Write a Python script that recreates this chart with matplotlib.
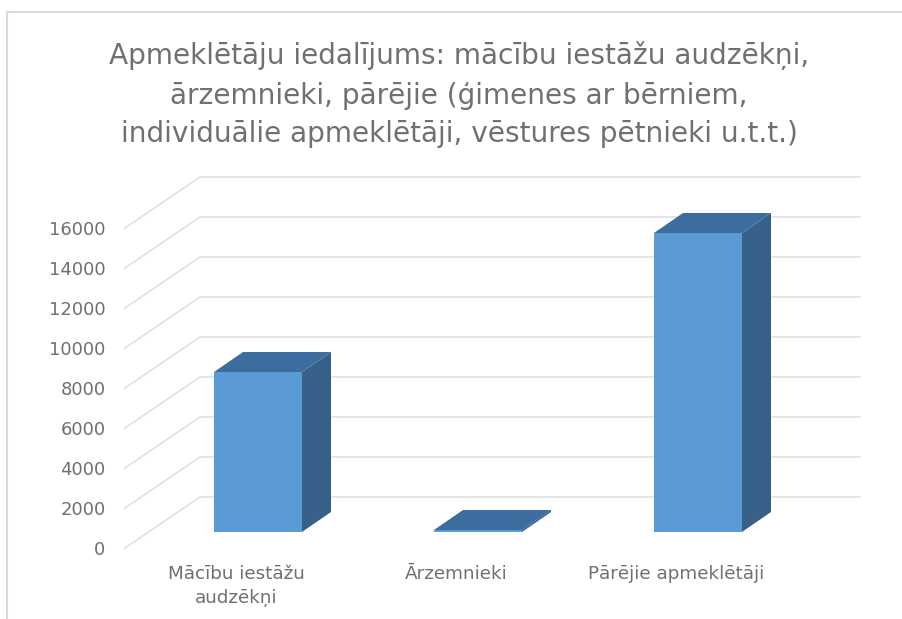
import matplotlib
matplotlib.use("Agg")
import matplotlib.pyplot as plt
from matplotlib.lines import Line2D
import numpy as np

# --- data ---
categories = ["Mācību iestāžu\naudzēkņi", "Ārzemnieki", "Pārējie apmeklētāji"]
values = [8000, 100, 14950]
yticks = [0, 2000, 4000, 6000, 8000, 10000, 12000, 14000, 16000]
title = ("Apmeklētāju iedalījums: mācību iestāžu audzēkņi,\n"
         "ārzemnieki, pārējie (ģimenes ar bērniem,\n"
         "individuālie apmeklētāji, vēstures pētnieki u.t.t.)")

# --- colours ---
GRID = "#e0e0e0"
TEXT = "#707070"
FRONT = "#5b9bd5"
TOP = "#3c6d9e"
SIDE = "#386189"

# --- 3d fake: depth offsets in data units ---
W, H = 902, 619
PX_X = 1 / 220      # category units per pixel
PX_Y = 50           # value units per pixel
wall_dx, wall_dy = 75 * PX_X, 51 * PX_Y
base_dy = 16 * PX_Y
bar_dx, bar_dy = 29 * PX_X, 20 * PX_Y
half = 44 * PX_X

fig = plt.figure(figsize=(W / 100, H / 100), dpi=100)
plt.rcParams['font.family'] = ['DejaVu Sans']
ax = fig.add_axes([125 / W, (H - 548) / H, 735 / W, 371 / H])
ax.set_xlim((125 - 258) * PX_X, (860 - 258) * PX_X)
ax.set_ylim(0, 371 * PX_Y)
for s in ax.spines.values():
    s.set_visible(False)

# gridlines: slanted floor part, then along back wall
x0 = ax.get_xlim()[0]
x1 = ax.get_xlim()[1]
for v in yticks:
    ax.plot([x0, x0 + wall_dx, x1], [v, v + wall_dy, v + wall_dy],
            color=GRID, lw=1.2, zorder=1, clip_on=False)

# bars
for i, v in enumerate(values):
    l, r = i - half, i + half
    b, t = base_dy, base_dy + v
    ax.fill([l, r, r, l], [b, b, t, t], color=FRONT, lw=0, zorder=3)
    ax.fill([r, r + bar_dx, r + bar_dx, r], [b, b + bar_dy, t + bar_dy, t],
            color=SIDE, lw=0, zorder=3)
    ax.fill([l, r, r + bar_dx, l + bar_dx], [t, t, t + bar_dy, t + bar_dy],
            color=TOP, lw=0, zorder=4)

ax.set_yticks(yticks)
ax.set_yticklabels([str(v) for v in yticks], fontsize=13, color=TEXT)
ax.set_xticks(np.arange(len(categories)) - 0.1)
ax.set_xticklabels(categories, fontsize=13.2, color=TEXT, linespacing=1.42)
ax.tick_params(axis='y', length=0, pad=14)
ax.tick_params(axis='x', length=0, pad=12)

fig.text(459 / W, 1 - 95 / H, title, ha='center', va='center',
         fontsize=20.2, color=TEXT, linespacing=1.5)

# chart border, top and left only
fig.add_artist(Line2D([7 / W, 7 / W, 1], [0, 1 - 12 / H, 1 - 12 / H],
                      color="#d9d9d9", lw=1.5))

fig.savefig("out.png", dpi=100)
